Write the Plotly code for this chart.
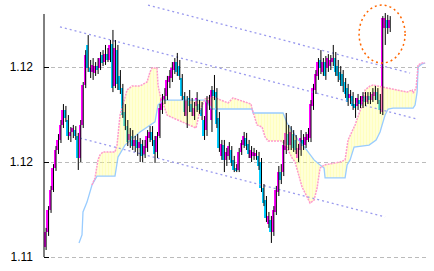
import plotly.graph_objects as go

# ---- candle data (price) ----
opens = [1.11553,1.11632,1.11747,1.11853,1.11968,1.12063,1.12116,1.12195,1.12274,1.12221,
         1.12137,1.12158,1.12168,1.12137,1.12021,1.12195,1.12405,1.12616,1.12495,1.12474,
         1.12468,1.12505,1.12495,1.12563,1.12526,1.12568,1.12537,1.12621,1.12400,1.12589,
         1.12453,1.12389,1.12263,1.12189,1.12116,1.12137,1.12084,1.12116,1.12074,1.12095,
         1.12042,1.12074,1.12126,1.12158,1.12116,1.12053,1.12137,1.12274,1.12326,1.12347,
         1.12421,1.12442,1.12484,1.12526,1.12505,1.12442,1.12347,1.12242,1.12337,1.12305,
         1.12242,1.12295,1.12305,1.12284,1.12221,1.12168,1.12305,1.12221,1.12379,1.12368,
         1.12232,1.12032,1.12089,1.12011,1.12032,1.12063,1.12011,1.11968,1.11958,1.12053,
         1.12089,1.12126,1.12095,1.12021,1.12032,1.12032,1.12032,1.12000,1.11863,1.11800,
         1.11674,1.11695,1.11632,1.11737,1.11842,1.11947,1.11947,1.12063,1.12147,1.12089,
         1.12147,1.12116,1.12021,1.12063,1.12116,1.12089,1.12116,1.12126,1.12295,1.12379,
         1.12453,1.12537,1.12474,1.12526,1.12495,1.12505,1.12526,1.12547,1.12505,1.12474,
         1.12463,1.12421,1.12389,1.12337,1.12347,1.12305,1.12295,1.12326,1.12305,1.12347,
         1.12316,1.12347,1.12326,1.12347,1.12368,1.12326,1.12263,1.12705,1.12747,1.12705]
closes = [1.11632,1.11747,1.11853,1.11968,1.12063,1.12116,1.12195,1.12274,1.12232,1.12137,
          1.12158,1.12179,1.12137,1.12021,1.12195,1.12405,1.12563,1.12495,1.12474,1.12511,
          1.12505,1.12484,1.12547,1.12521,1.12568,1.12537,1.12616,1.12389,1.12600,1.12411,
          1.12379,1.12247,1.12189,1.12105,1.12147,1.12084,1.12116,1.12074,1.12105,1.12032,
          1.12084,1.12137,1.12158,1.12116,1.12042,1.12137,1.12284,1.12337,1.12347,1.12432,
          1.12453,1.12495,1.12526,1.12474,1.12453,1.12347,1.12263,1.12326,1.12295,1.12263,
          1.12284,1.12337,1.12274,1.12242,1.12137,1.12326,1.12326,1.12379,1.12347,1.12200,
          1.12074,1.12095,1.12011,1.12053,1.12084,1.11995,1.11958,1.11953,1.12053,1.12100,
          1.12137,1.12084,1.12042,1.12063,1.12053,1.12047,1.11979,1.11863,1.11784,1.11705,
          1.11716,1.11632,1.11747,1.11853,1.11947,1.11905,1.12089,1.12153,1.12089,1.12158,
          1.12074,1.12063,1.12074,1.12126,1.12084,1.12132,1.12147,1.12305,1.12389,1.12463,
          1.12526,1.12495,1.12526,1.12453,1.12547,1.12537,1.12547,1.12474,1.12453,1.12432,
          1.12400,1.12358,1.12316,1.12358,1.12295,1.12284,1.12337,1.12305,1.12347,1.12316,
          1.12347,1.12326,1.12358,1.12368,1.12326,1.12274,1.12758,1.12758,1.12705,1.12747]
highs = [1.11653,1.11768,1.11874,1.11989,1.12084,1.12147,1.12221,1.12305,1.12295,1.12247,
         1.12184,1.12195,1.12189,1.12153,1.12221,1.12421,1.12589,1.12668,1.12537,1.12547,
         1.12526,1.12547,1.12579,1.12589,1.12616,1.12600,1.12642,1.12695,1.12642,1.12616,
         1.12484,1.12411,1.12305,1.12221,1.12179,1.12168,1.12137,1.12147,1.12126,1.12116,
         1.12116,1.12168,1.12189,1.12189,1.12137,1.12158,1.12305,1.12358,1.12389,1.12453,
         1.12484,1.12526,1.12547,1.12574,1.12537,1.12463,1.12368,1.12347,1.12379,1.12337,
         1.12316,1.12368,1.12326,1.12316,1.12242,1.12347,1.12353,1.12400,1.12458,1.12389,
         1.12263,1.12116,1.12116,1.12074,1.12105,1.12084,1.12032,1.11989,1.12074,1.12116,
         1.12158,1.12153,1.12116,1.12084,1.12074,1.12063,1.12053,1.12021,1.11884,1.11821,
         1.11737,1.11716,1.11768,1.11874,1.11979,1.11989,1.12116,1.12258,1.12195,1.12189,
         1.12168,1.12142,1.12095,1.12168,1.12147,1.12158,1.12179,1.12326,1.12411,1.12484,
         1.12547,1.12589,1.12547,1.12558,1.12568,1.12563,1.12616,1.12579,1.12537,1.12505,
         1.12484,1.12442,1.12411,1.12379,1.12368,1.12337,1.12358,1.12347,1.12368,1.12368,
         1.12368,1.12368,1.12389,1.12400,1.12389,1.12358,1.12768,1.12784,1.12774,1.12768]
lows = [1.11537,1.11611,1.11732,1.11842,1.11953,1.12042,1.12100,1.12179,1.12211,1.12116,
        1.12105,1.12126,1.12116,1.11958,1.12000,1.12179,1.12389,1.12474,1.12442,1.12432,
        1.12453,1.12463,1.12484,1.12505,1.12511,1.12526,1.12526,1.12368,1.12389,1.12379,
        1.12358,1.12232,1.12168,1.12084,1.12074,1.12063,1.12053,1.12032,1.12000,1.12000,
        1.12021,1.12053,1.12105,1.12084,1.11995,1.12021,1.12126,1.12253,1.12305,1.12326,
        1.12389,1.12421,1.12463,1.12453,1.12432,1.12326,1.12242,1.12179,1.12263,1.12242,
        1.12221,1.12263,1.12253,1.12221,1.12116,1.12137,1.12274,1.12158,1.12326,1.12179,
        1.12053,1.12011,1.11947,1.11979,1.12011,1.11979,1.11947,1.11947,1.11947,1.12037,
        1.12074,1.12063,1.12021,1.12000,1.12011,1.12011,1.11958,1.11842,1.11768,1.11684,
        1.11653,1.11574,1.11611,1.11721,1.11821,1.11884,1.11926,1.12042,1.12063,1.12063,
        1.12053,1.12042,1.12000,1.12032,1.12063,1.12074,1.12105,1.12105,1.12274,1.12358,
        1.12432,1.12463,1.12453,1.12432,1.12474,1.12484,1.12505,1.12453,1.12421,1.12400,
        1.12368,1.12337,1.12295,1.12305,1.12274,1.12232,1.12274,1.12284,1.12284,1.12295,
        1.12305,1.12305,1.12316,1.12326,1.12305,1.12253,1.12247,1.12616,1.12674,1.12684]

# ---- cloud spans (bar index, price) ----
span_a_x = [13.74,14.95,15.35,16.97,18.99,21.01,28.28,29.09,29.49,32.32,38.38,44.44,45.66,47.68,
            64.65,67.47,83.64,84.04,96.16,97.78,100.2,102.22,105.05,108.69,111.11,112.73,113.13,
            121.21,122.02,123.23,124.85,130.91,133.74,135.35,136.16,137.37,138.59,140.61,148.69,
            149.49,150.3,150.71,152.32,153.54]
span_a = [1.11574,1.11616,1.11737,1.11789,1.11879,1.11926,1.11926,1.12000,1.12026,1.12089,1.12158,
          1.12211,1.12300,1.12326,1.12326,1.12279,1.12279,1.12258,1.12258,1.12205,1.12158,1.12116,
          1.12074,1.12011,1.11984,1.11968,1.11916,1.11916,1.11984,1.12011,1.12079,1.12089,1.12116,
          1.12158,1.12195,1.12247,1.12279,1.12284,1.12284,1.12300,1.12368,1.12500,1.12516,1.12521]
span_b_x = [18.99,20.2,21.41,22.22,23.43,28.28,29.09,30.3,31.52,33.13,35.15,38.38,41.21,42.42,43.23,
            45.25,45.66,46.46,47.68,49.29,51.72,57.37,59.8,61.01,62.63,64.65,67.88,73.94,75.96,78.79,
            82.02,83.23,83.64,84.44,85.66,87.68,88.89,90.1,95.76,97.78,99.8,101.01,102.63,103.84,
            105.86,107.07,108.69,109.9,111.11,112.73,119.19,121.21,122.42,125.25,128.08,129.29,
            131.31,132.53,136.16,140.61,143.43,146.26,148.28,148.69,149.9,150.3,150.71,152.32,153.54]
span_b = [1.11879,1.11916,1.12011,1.12037,1.12053,1.12053,1.12089,1.12247,1.12300,1.12379,1.12400,
          1.12400,1.12421,1.12474,1.12495,1.12495,1.12405,1.12353,1.12311,1.12247,1.12232,1.12200,
          1.12184,1.12179,1.12274,1.12332,1.12342,1.12311,1.12337,1.12326,1.12311,1.12305,1.12279,
          1.12247,1.12195,1.12184,1.12132,1.12111,1.12111,1.12074,1.12021,1.12000,1.11916,1.11868,
          1.11816,1.11784,1.11800,1.11863,1.11968,1.11984,1.12000,1.12011,1.12116,1.12195,1.12300,
          1.12379,1.12400,1.12405,1.12395,1.12384,1.12379,1.12368,1.12379,1.12363,1.12389,1.12458,
          1.12511,1.12521,1.12521]

# ---- trend channel lines (bar index, price) ----
trend_x = [[41.62, 147.47], [6.06, 150.3], [14.14, 137.37]]
trend_y = [[1.12826, 1.12468], [1.12711, 1.12226], [1.12126, 1.11711]]

# ---- highlighted region (bar index, price) ----
circle_x = [126.87, 145.45]
circle_y = [1.12521, 1.12826]

tick_vals = [1.115, 1.12, 1.125]
tick_text = ["1.11", "1.12", "1.12"]
axis_top = 1.12779

UP, DOWN = "#ff00ff", "#00ccff"
idx = list(range(len(closes)))

fig = go.Figure()

# cloud polygon
a_pts = [(x, y) for x, y in zip(span_a_x, span_a) if x >= span_b_x[0]]
poly_x = [p[0] for p in a_pts] + span_b_x[::-1]
poly_y = [p[1] for p in a_pts] + span_b[::-1]
fig.add_trace(go.Scatter(x=poly_x, y=poly_y, mode="lines", line=dict(width=0),
                         fill="toself", fillcolor="rgba(0,0,0,0)",
                         fillpattern=dict(shape="|", fgcolor="#ffff80", bgcolor="rgba(255,255,255,0)",
                                          size=3, solidity=0.75),
                         hoverinfo="skip"))
fig.add_trace(go.Scatter(x=span_a_x, y=span_a, mode="lines",
                         line=dict(color="#99ccff", width=1.3)))
fig.add_trace(go.Scatter(x=span_b_x, y=span_b, mode="lines",
                         line=dict(color="#ff99cc", width=1.5, dash="2px,1px")))

for tx, ty in zip(trend_x, trend_y):
    fig.add_trace(go.Scatter(x=tx, y=ty, mode="lines",
                             line=dict(color="#9999ee", width=1.3, dash="2px,3px")))

# wicks
wx, wy = [], []
for i in idx:
    wx += [i + 0.45, i + 0.45, None]
    wy += [lows[i], highs[i], None]
fig.add_trace(go.Scatter(x=wx, y=wy, mode="lines", line=dict(color="black", width=1),
                         hoverinfo="skip"))

# bodies
base = [min(o, c) for o, c in zip(opens, closes)]
height = [max(abs(c - o), 0.00003) for o, c in zip(opens, closes)]
colors = [UP if c >= o else DOWN for o, c in zip(opens, closes)]
fig.add_trace(go.Bar(x=idx, y=height, base=base, width=0.85,
                     marker=dict(color=colors, line=dict(width=0))))

fig.add_shape(type="circle", xref="x", yref="y", x0=circle_x[0], x1=circle_x[1],
              y0=circle_y[0], y1=circle_y[1],
              line=dict(color="#ff6600", width=1.5, dash="2px,3px"))
fig.add_shape(type="line", xref="paper", yref="y", x0=0, x1=0, y0=tick_vals[0], y1=axis_top,
              line=dict(color="black", width=1))

px_per_unit = 19000.0
y_lo = tick_vals[0] - 4 / px_per_unit
y_hi = tick_vals[2] + 67 / px_per_unit
fig.update_layout(
    width=434, height=271, autosize=False,
    margin=dict(l=44, r=7, t=0, b=10),
    paper_bgcolor="white", plot_bgcolor="white",
    showlegend=False, bargap=0,
    xaxis=dict(visible=False, range=[-0.4, 154.3]),
    yaxis=dict(range=[y_lo, y_hi], tickvals=tick_vals, ticktext=tick_text,
               ticks="inside", ticklen=5, tickcolor="black", tickwidth=1,
               showline=False, zeroline=False,
               showgrid=True, gridcolor="#bbbbbb", gridwidth=1, griddash="4px,3px",
               tickfont=dict(family="Liberation Sans, Arial, sans-serif", size=12, color="black"),
               ticklabelstandoff=10),
)
fig.write_html("out.html")
